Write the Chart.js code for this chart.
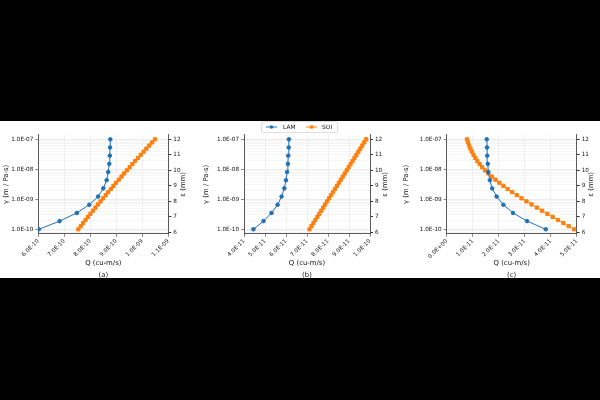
<!DOCTYPE html>
<html>
<head>
<meta charset="utf-8">
<script src="https://cdn.jsdelivr.net/npm/chart.js@4"></script>
<style>
  body { margin: 0; background: #000; width: 600px; height: 400px; overflow: hidden; }
  #band { position: absolute; left: 0; top: 121px; width: 600px; height: 157px; background: #fff; }
  canvas { position: absolute; top: 120px; }
</style>
</head>
<body>
<div id="band"></div>
<canvas id="grafica1" width="200" height="162" style="left:0px"></canvas>
<canvas id="grafica2" width="200" height="162" style="left:200px"></canvas>
<canvas id="grafica3" width="200" height="162" style="left:400px"></canvas>
<script>
// gamma (m / Pa-s) for the LAM curves, epsilon (mm) for the SOI curves
const gamma = [1.0e-10, 1.874e-10, 3.511e-10, 6.579e-10, 1.233e-9, 2.310e-9,
               4.329e-9, 8.111e-9, 1.520e-8, 2.848e-8, 5.337e-8, 1.0e-7];
const epsilon = [6.2, 6.4, 6.6, 6.8, 7.0, 7.2, 7.4, 7.6, 7.8, 8.0,
                 8.2, 8.4, 8.6, 8.8, 9.0, 9.2, 9.4, 9.6, 9.8, 10.0,
                 10.2, 10.4, 10.6, 10.8, 11.0, 11.2, 11.4, 11.6, 11.8, 12.0];

// Q (cu-m/s)
const lamA = [6.02e-10, 6.82e-10, 7.48e-10, 7.96e-10, 8.30e-10, 8.50e-10,
              8.63e-10, 8.69e-10, 8.73e-10, 8.75e-10, 8.76e-10, 8.77e-10];
const soiA = [7.540e-10, 7.632e-10, 7.725e-10, 7.818e-10, 7.912e-10, 8.007e-10,
              8.102e-10, 8.199e-10, 8.296e-10, 8.393e-10, 8.491e-10, 8.590e-10,
              8.690e-10, 8.790e-10, 8.891e-10, 8.993e-10, 9.096e-10, 9.199e-10,
              9.302e-10, 9.407e-10, 9.512e-10, 9.618e-10, 9.725e-10, 9.832e-10,
              9.940e-10, 1.0049e-9, 1.0158e-9, 1.0268e-9, 1.0379e-9, 1.0490e-9];
const lamB = [4.45e-11, 4.93e-11, 5.31e-11, 5.60e-11, 5.79e-11, 5.92e-11,
              6.00e-11, 6.05e-11, 6.09e-11, 6.11e-11, 6.13e-11, 6.14e-11];
const soiB = [7.120e-11, 7.213e-11, 7.306e-11, 7.399e-11, 7.492e-11, 7.586e-11,
              7.679e-11, 7.772e-11, 7.865e-11, 7.958e-11, 8.051e-11, 8.144e-11,
              8.237e-11, 8.330e-11, 8.423e-11, 8.517e-11, 8.610e-11, 8.703e-11,
              8.796e-11, 8.889e-11, 8.982e-11, 9.075e-11, 9.168e-11, 9.261e-11,
              9.354e-11, 9.448e-11, 9.541e-11, 9.634e-11, 9.727e-11, 9.820e-11];
const lamC = [3.81e-11, 3.09e-11, 2.55e-11, 2.18e-11, 1.92e-11, 1.75e-11,
              1.66e-11, 1.60e-11, 1.58e-11, 1.56e-11, 1.55e-11, 1.54e-11];
const soiC = [4.900e-11, 4.694e-11, 4.488e-11, 4.282e-11, 4.076e-11, 3.871e-11,
              3.667e-11, 3.464e-11, 3.264e-11, 3.069e-11, 2.879e-11, 2.695e-11,
              2.517e-11, 2.346e-11, 2.182e-11, 2.025e-11, 1.875e-11, 1.733e-11,
              1.599e-11, 1.475e-11, 1.365e-11, 1.267e-11, 1.179e-11, 1.101e-11,
              1.031e-11, 0.969e-11, 0.913e-11, 0.863e-11, 0.819e-11, 0.779e-11];

// tick labels
const xTicksA = [6e-10, 7e-10, 8e-10, 9e-10, 1.0e-9, 1.1e-9];
const xTicksB = [4e-11, 5e-11, 6e-11, 7e-11, 8e-11, 9e-11, 1.0e-10];
const xTicksC = [0, 1e-11, 2e-11, 3e-11, 4e-11, 5e-11];
const epsTicks = [6, 7, 8, 9, 10, 11, 12];

const BLUE = '#1f70b4';
const ORANGE = '#ff7f0e';
const TEXT = '#111';

Chart.defaults.font.family = 'DejaVu Sans';

function sci(v) {
    const parts = v.toExponential(1).split('e');
    const n = parseInt(parts[1], 10);
    return parts[0] + 'E' + (n < 0 ? '-' : '+') + String(Math.abs(n)).padStart(2, '0');
}

function isDecade(v) {
    const l = Math.log10(v);
    return Math.abs(l - Math.round(l)) < 1e-9;
}

function logTicks(min, max) {
    const ticks = [];
    for (let e = -12; e <= -6; e++) {
        for (let m = 1; m <= 9; m++) {
            const v = Number(m + 'e' + e);
            if (v >= min && v <= max) ticks.push({ value: v });
        }
    }
    return ticks;
}

function makePanel(canvas, p) {
    const yMin = Math.pow(10, -10.15);
    const yMax = Math.pow(10, -6.85);
    const plugins = [{
        id: 'epsTitle',
        afterDraw(chart) {
            const c = chart.ctx;
            const a = chart.chartArea;
            c.save();
            c.translate(a.right + p.rightTitle, (a.top + a.bottom) / 2);
            c.rotate(-Math.PI / 2);
            c.fillStyle = TEXT;
            c.font = '6.9px "DejaVu Sans"';
            c.textAlign = 'center';
            c.textBaseline = 'middle';
            c.fillText('ε (mm)', 0, 0);
            c.restore();
        }
    }];
    if (p.legend) {
        plugins.push({
            id: 'lineLegend',
            afterDraw(chart) {
                const c = chart.ctx;
                c.save();
                c.strokeStyle = '#d6d6d6';
                c.lineWidth = 0.8;
                c.fillStyle = 'rgba(255,255,255,0.8)';
                c.beginPath();
                c.roundRect(61.5, 1.5, 76, 11, 1.5);
                c.fill();
                c.stroke();
                const y = 7;
                c.lineWidth = 1;
                c.strokeStyle = BLUE;
                c.beginPath(); c.moveTo(66, y); c.lineTo(77, y); c.stroke();
                c.fillStyle = BLUE;
                c.beginPath(); c.arc(71.5, y, 1.8, 0, Math.PI * 2); c.fill();
                c.strokeStyle = ORANGE;
                c.beginPath(); c.moveTo(106, y); c.lineTo(117, y); c.stroke();
                c.fillStyle = ORANGE;
                c.fillRect(110, y - 1.6, 3.2, 3.2);
                c.fillStyle = TEXT;
                c.font = '5.9px "DejaVu Sans"';
                c.textBaseline = 'middle';
                c.fillText('LAM', 83, y);
                c.fillText('SOI', 122, y);
                c.restore();
            }
        });
    }

    return new Chart(canvas, {
        type: 'scatter',
        data: {
            datasets: [{
                label: 'LAM',
                data: gamma.map((g, i) => ({ x: p.lam[i], y: g })),
                yAxisID: 'y',
                showLine: true,
                borderColor: BLUE,
                backgroundColor: BLUE,
                borderWidth: 1,
                pointRadius: 1.8,
                pointStyle: 'circle'
            }, {
                label: 'SOI',
                data: epsilon.map((e, i) => ({ x: p.soi[i], y: e })),
                yAxisID: 'y2',
                showLine: true,
                borderColor: ORANGE,
                backgroundColor: ORANGE,
                borderWidth: 1,
                pointRadius: 2.3,
                pointStyle: 'rect'
            }]
        },
        options: {
            responsive: false,
            animation: false,
            layout: { padding: { top: 14.8, left: 0, right: 0, bottom: 0 } },
            plugins: { legend: { display: false }, tooltip: { enabled: false } },
            scales: {
                x: {
                    type: 'linear',
                    min: p.xMin,
                    max: p.xMax,
                    afterBuildTicks: s => { s.ticks = p.xTicks.map(v => ({ value: v })); },
                    afterFit: s => { s.height = 48.2; },
                    ticks: {
                        autoSkip: false,
                        minRotation: 45,
                        maxRotation: 45,
                        padding: 1,
                        color: TEXT,
                        font: { size: 5.7 },
                        callback: v => sci(v)
                    },
                    grid: { color: '#e4e4e4', lineWidth: 0.6, tickLength: 3, tickColor: '#333' },
                    border: { color: '#333', width: 0.8 },
                    title: {
                        display: true,
                        text: ['Q (cu-m/s)', p.label],
                        color: TEXT,
                        font: { size: 6.9, lineHeight: 1.7 },
                        padding: { top: 0, bottom: 1.2 }
                    }
                },
                y: {
                    type: 'logarithmic',
                    position: 'left',
                    min: yMin,
                    max: yMax,
                    afterBuildTicks: s => { s.ticks = logTicks(yMin, yMax); },
                    afterFit: s => { s.width = p.leftW; },
                    ticks: {
                        autoSkip: false,
                        minRotation: 0,
                        maxRotation: 0,
                        padding: 2,
                        color: TEXT,
                        font: { size: 5.7 },
                        callback: v => isDecade(v) ? sci(v) : ''
                    },
                    grid: {
                        lineWidth: 0.6,
                        tickLength: 3,
                        color: c => isDecade(c.tick.value) ? '#e0e0e0' : '#efefef',
                        tickColor: c => isDecade(c.tick.value) ? '#333' : 'rgba(0,0,0,0)'
                    },
                    border: { color: '#333', width: 0.8 },
                    title: {
                        display: true,
                        text: 'γ (m / Pa-s)',
                        color: TEXT,
                        font: { size: 6.9, lineHeight: 1.2 },
                        padding: { top: 2.5, bottom: 0 }
                    }
                },
                y2: {
                    type: 'linear',
                    position: 'right',
                    min: 5.91,
                    max: 12.29,
                    afterBuildTicks: s => { s.ticks = epsTicks.map(v => ({ value: v })); },
                    afterFit: s => { s.width = p.rightW; },
                    ticks: { padding: 2, color: TEXT, font: { size: 5.7 } },
                    grid: { drawOnChartArea: false, tickLength: 3, tickColor: '#333' },
                    border: { color: '#333', width: 0.8 }
                }
            }
        },
        plugins: plugins
    });
}

makePanel(document.getElementById('grafica1'), {
    lam: lamA, soi: soiA, xMin: 6e-10, xMax: 1.1e-9, xTicks: xTicksA,
    leftW: 38.3, rightW: 31.7, rightTitle: 15, label: '(a)', legend: false
});
makePanel(document.getElementById('grafica2'), {
    lam: lamB, soi: soiB, xMin: 4e-11, xMax: 1.0e-10, xTicks: xTicksB,
    leftW: 44, rightW: 30, rightTitle: 15, label: '(b)', legend: true
});
makePanel(document.getElementById('grafica3'), {
    lam: lamC, soi: soiC, xMin: 0, xMax: 5e-11, xTicks: xTicksC,
    leftW: 46.7, rightW: 23.3, rightTitle: 14.5, label: '(c)', legend: false
});
</script>
</body>
</html>
